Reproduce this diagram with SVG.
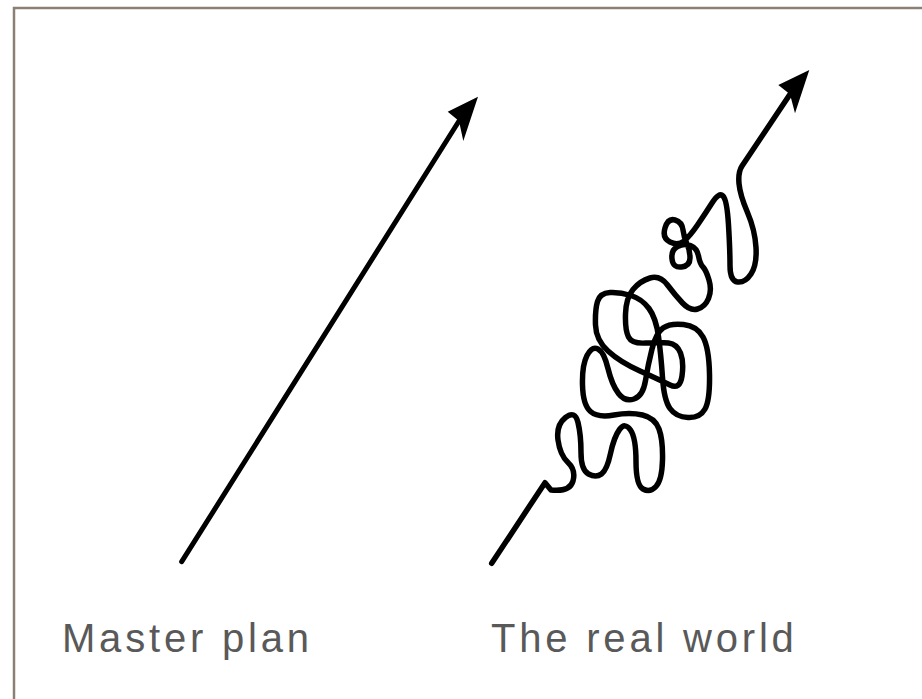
<svg xmlns="http://www.w3.org/2000/svg" width="922" height="699" viewBox="0 0 922 699">
<style>
.ln{fill:none;stroke:#000;stroke-linecap:round;stroke-linejoin:round}
.hd{fill:#000;stroke:none}
.lbl{font-family:"Liberation Sans",Arial,sans-serif;font-size:40px;fill:#595959;letter-spacing:3.8px}
</style>
<rect width="922" height="699" fill="#fff"/>
<path d="M14 699 L14 8 L922 8" fill="none" stroke="#8a8076" stroke-width="2.5"/>
<g id="master-plan">
<path class="ln" stroke-width="5" d="M181.7 561.7 L459 121"/>
<path class="hd" d="M478 96.7 L463.3 141 L459 121 L447.7 111.7 Z"/>
<text class="lbl" x="62" y="652">Master plan</text>
</g>
<g id="real-world">
<path class="ln" stroke-width="5.5" d="M491.7 563.3 L545 482.7 L551 490 Q570 492 573 481 Q576 470 568 462.5 Q560 455 558 440 Q556 425 565.5 417.5 Q575 410 578 422.5 Q581 435 581 452.5 Q581 470 588.5 474 Q596 478 601.5 474 Q607 470 610.5 453.5 Q614 437 619.5 429.5 Q625 422 630.5 430 Q636 438 636 461.5 Q636 485 643 489 Q650 493 656 486.5 Q662 480 662.5 460 Q663 440 659 429 Q655 418 642.5 415 Q630 412 614 415 Q598 418 590.5 411.5 Q583 405 582.5 385 Q582 365 587 355.5 Q592 346 598 349 Q604 352 608 368.5 Q612 385 618.5 393.5 Q625 402 634 399 Q643 396 645.5 380.5 Q648 365 652 349 Q656 333 663 328 Q670 323 683.5 324.5 Q697 326 703 337 Q709 348 709.5 374 Q710 400 705 409 Q700 418 688 417.5 Q676 417 670 408.5 Q664 400 662.5 377.5 Q661 355 658.5 336.5 Q656 318 649 308.5 Q642 299 631 295.5 Q620 292 610 292.5 Q600 293 597.5 301.5 Q595 310 595.5 325 Q596 340 608 351 Q620 362 640 371 Q660 380 670 385 Q680 390 682 376 Q684 362 680.5 353 Q677 344 668.5 343 Q660 342 646 343 Q632 344 628.5 337 Q625 330 625.5 314 Q626 298 633 289.5 Q640 281 650 278 Q660 275 667.5 285 Q675 295 682.5 303 Q690 311 697.5 309 Q705 307 708.5 298.5 Q712 290 709 280 Q706 270 703 267 Q700 264 698.5 256 Q697 248 690.5 245.5 Q684 243 677.5 246.5 Q671 250 672 259 Q673 268 681.5 267 Q690 266 690 258 Q690 250 687 244 Q684 238 683 230 Q682 222 675 220 Q668 218 665 228 Q662 238 670 242 Q678 246 684 241 Q690 236 697.5 225 Q705 214 712 203 Q719 192 723 196 Q727 200 728.5 225 Q730 250 730 265.5 Q730 281 737.5 282 Q745 283 751 274 Q757 265 756 247.5 Q755 230 747.5 212.5 Q740 195 739 183.5 Q738 172 742 166 L790 94.3"/>
<path class="hd" d="M809.3 70 L795 113.3 L790 94.3 L778.3 85 Z"/>
<text class="lbl" x="491" y="652">The real world</text>
</g>
</svg>
